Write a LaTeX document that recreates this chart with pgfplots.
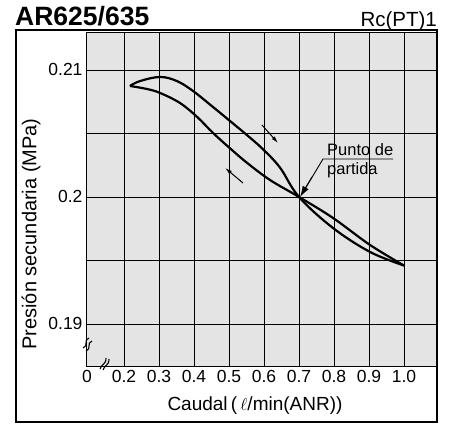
\documentclass[border=0pt]{standalone}
\usepackage{fontspec}
\setmainfont{Liberation Sans}
\usepackage{pgfplots}
\pgfplotsset{compat=1.18}
\usetikzlibrary{arrows.meta}
\definecolor{plotbg}{RGB}{228,228,228}

\begin{document}
\begin{tikzpicture}[x=1pt,y=1pt]
\path[use as bounding box] (-87,-58) rectangle (367,366);
\begin{axis}[
    scale only axis,
    width=349pt, height=334pt,
    xmin=0.0943, xmax=1.0914,
    ymin=0.18669, ymax=0.21299,
    axis background/.style={fill=plotbg},
    axis line style={black, line width=1pt},
    xtick={0.2,0.3,0.4,0.5,0.6,0.7,0.8,0.9,1.0},
    xticklabels={0.2,0.3,0.4,0.5,0.6,0.7,0.8,0.9,1.0},
    extra x ticks={0.0943},
    extra x tick labels={0},
    extra x tick style={grid=none},
    ytick={0.19,0.195,0.2,0.205,0.21},
    yticklabels={0.19,,0.2,,0.21},
    major tick length=0pt,
    grid=major,
    major grid style={black, line width=0.8pt},
    every tick label/.append style={font=\fontsize{17.5}{17.5}\selectfont},
    xticklabel style={yshift=-1pt},
    yticklabel style={xshift=-1pt},
    clip=false,
]
\addplot[black, line width=2.2pt, smooth, tension=0.6] coordinates {
    (0.217,0.20874) (0.246,0.20913) (0.303,0.20945) (0.351,0.20913)
    (0.397,0.20835) (0.454,0.20709) (0.503,0.20598) (0.551,0.20488)
    (0.597,0.20376) (0.646,0.20230) (0.700,0.20000)
    (0.797,0.19756) (0.903,0.19567) (1.000,0.19460)
};
\addplot[black, line width=2.2pt, smooth, tension=0.6] coordinates {
    (0.217,0.20874) (0.266,0.20850) (0.303,0.20819) (0.360,0.20740)
    (0.409,0.20630) (0.454,0.20505) (0.503,0.20383) (0.551,0.20270)
    (0.617,0.20134) (0.700,0.20000) (0.797,0.19835) (0.903,0.19622)
    (1.000,0.19460)
};
% direction arrows
\draw[black, line width=1pt, -{Latex[length=7pt,width=4pt]}]
    (axis cs:0.594,0.20567) -- (axis cs:0.640,0.20425);
\draw[black, line width=1pt, -{Latex[length=7pt,width=4pt]}]
    (axis cs:0.540,0.20110) -- (axis cs:0.489,0.20228);
\end{axis}
% outer frame
\draw[black, line width=1.4pt] (-71,-56) rectangle (350,336);
% titles
\node[anchor=base west, inner sep=0pt, font=\fontsize{26.5}{26.5}\selectfont\bfseries] at (-72,341) {AR625/635};
\node[anchor=base east, inner sep=0pt, font=\fontsize{20.5}{20.5}\selectfont] at (350,340) {Rc(PT)1};
% axis titles
\node[rotate=90, inner sep=0pt, font=\fontsize{20}{20}\selectfont] at (-56,132) {Presión secundaria (MPa)};
\node[inner sep=0pt, font=\fontsize{19}{19}\selectfont] at (168,-40) {Caudal\,(\,$\ell$/min(ANR))};
% starting point note
\node[anchor=base west, inner sep=0pt, font=\fontsize{16.5}{16.5}\selectfont] at (240,211) {Punto de};
\node[anchor=base west, inner sep=0pt, font=\fontsize{16.5}{16.5}\selectfont] at (240,192) {partida};
\draw[black, line width=0.9pt] (306,207) -- (236,207) -- (215,172);
\draw[black, line width=0.9pt, -{Latex[length=11pt,width=7pt]}] (225,189) -- (213,169);
% axis breaks
\begin{scope}[black, line width=1.1pt]
\draw (-4,18) .. controls (2,20) and (-4,26) .. (2,28);
\draw (-1,15) .. controls (5,17) and (-1,23) .. (5,25);
\draw (13,-3) .. controls (15,3) and (19,1) .. (19,8);
\draw (16,-4) .. controls (18,2) and (22,0) .. (22,7);
\end{scope}
\end{tikzpicture}
\end{document}
